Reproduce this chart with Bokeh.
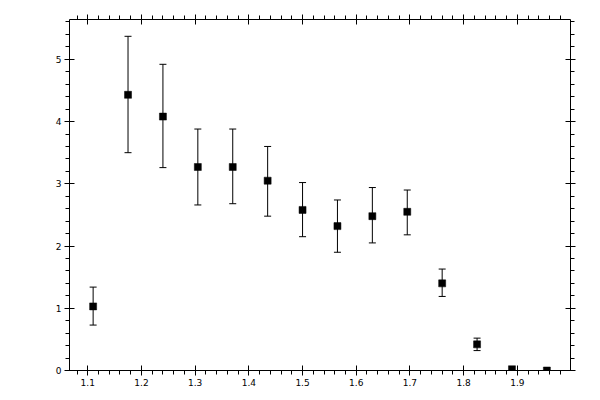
from bokeh.plotting import figure
from bokeh.models import (ColumnDataSource, Whisker, TeeHead, LinearAxis,
                          SingleIntervalTicker, Range1d, CustomLabelingPolicy)
from bokeh.embed import file_html
from bokeh.resources import INLINE

# Data
x_vals = [1.11, 1.175, 1.24, 1.305, 1.37, 1.435, 1.5, 1.565, 1.63, 1.695, 1.76, 1.825, 1.89, 1.955]
y_vals = [1.03, 4.43, 4.08, 3.27, 3.27, 3.05, 2.58, 2.32, 2.48, 2.55, 1.40, 0.42, 0.02, 0.0]
y_upper = [1.34, 5.37, 4.92, 3.88, 3.88, 3.60, 3.02, 2.74, 2.94, 2.90, 1.63, 0.52, 0.02, 0.0]
y_lower = [0.73, 3.50, 3.26, 2.66, 2.68, 2.48, 2.15, 1.90, 2.05, 2.18, 1.19, 0.32, 0.02, 0.0]

pts = ColumnDataSource(dict(x=x_vals, y=y_vals))
err_idx = [i for i in range(len(x_vals)) if y_upper[i] > y_lower[i]]
errs = ColumnDataSource(dict(
    x=[x_vals[i] for i in err_idx],
    upper=[y_upper[i] for i in err_idx],
    lower=[y_lower[i] for i in err_idx],
))

p = figure(width=592, height=392,
           x_range=Range1d(1.066, 1.999), y_range=Range1d(0, 5.64),
           output_backend="svg", toolbar_location=None,
           x_axis_type=None, y_axis_type=None,
           min_border_left=69, min_border_right=22,
           min_border_top=19, min_border_bottom=22)
p.outline_line_color = None
p.xgrid.visible = False
p.ygrid.visible = False
p.background_fill_color = "white"
p.border_fill_color = "white"


def make_axis(ticker, show_labels):
    ax = LinearAxis(ticker=ticker)
    ax.axis_line_color = "black"
    ax.axis_line_width = 1
    ax.major_tick_line_color = "black"
    ax.minor_tick_line_color = "black"
    ax.major_tick_in = 5
    ax.major_tick_out = 5
    ax.minor_tick_in = 0
    ax.minor_tick_out = 4
    ax.major_label_text_font = "DejaVu Sans"
    ax.major_label_text_font_size = "9px"
    ax.major_label_text_color = "black"
    ax.major_label_standoff = 3
    if not show_labels:
        ax.major_label_standoff = 0
        ax.major_label_text_font_size = "1px"
        ax.major_label_policy = CustomLabelingPolicy(code="return new Set()")
    return ax


xt = lambda: SingleIntervalTicker(interval=0.1, num_minor_ticks=5)
yt = lambda: SingleIntervalTicker(interval=1, num_minor_ticks=5)

p.add_layout(make_axis(xt(), True), "below")
p.add_layout(make_axis(xt(), False), "above")
p.add_layout(make_axis(yt(), True), "left")
p.add_layout(make_axis(yt(), False), "right")

wh = Whisker(source=errs, base="x", upper="upper", lower="lower",
             dimension="height", line_color="black", line_width=1,
             upper_head=TeeHead(size=7, line_color="black", line_width=1),
             lower_head=TeeHead(size=7, line_color="black", line_width=1))
p.add_layout(wh)

p.scatter("x", "y", source=pts, marker="square", size=7,
          fill_color="black", line_color="black", line_width=0.5)

open("out.html", "w").write(file_html(p, INLINE))
